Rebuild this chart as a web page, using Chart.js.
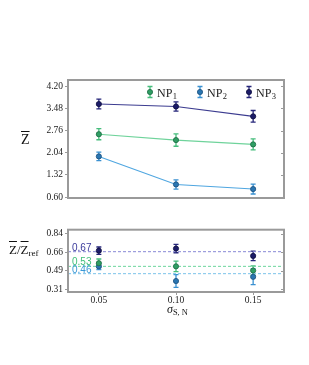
<!DOCTYPE html>
<html>
<head>
<meta charset="utf-8">
<script src="https://cdn.jsdelivr.net/npm/chart.js@4/dist/chart.umd.min.js"></script>
<style>
  body { margin: 0; background: #fff; }
  #wrap { position: relative; width: 309px; height: 365px; background: #fff; }
  canvas { position: absolute; left: 0; }
  .lbl { position: absolute; font-family: "Liberation Serif", serif; color: #111; white-space: nowrap; }
  .ov { text-decoration: overline; }
  .lbl sub { font-size: 70%; vertical-align: -2px; }
</style>
</head>
<body>
<div id="wrap">
  <canvas id="topChart" width="309" height="222" style="top:0"></canvas>
  <canvas id="botChart" width="309" height="90" style="top:222px"></canvas>
  <div class="lbl" style="left:21px; top:132px; font-size:14px;"><span class="ov">Z</span></div>
  <div class="lbl" style="left:9px; top:242px; font-size:13px;"><span class="ov">Z</span>/<span class="ov">Z</span><sub>ref</sub></div>
  <div class="lbl" style="left:167px; top:302px; font-size:12px;"><i>σ</i><sub>S, N</sub></div>
</div>
<script>
// values
var sigma = [0.05, 0.10, 0.15];
var seriesNames = ['NP', 'NP', 'NP'];
var seriesSubs = ['1', '2', '3'];

var zNP1 = [2.64, 2.45, 2.31];
var zNP2 = [1.92, 1.01, 0.86];
var zNP3 = [3.62, 3.54, 3.22];
var zErrNP1 = [0.18, 0.20, 0.18];
var zErrNP2 = [0.14, 0.15, 0.16];
var zErrNP3 = [0.16, 0.15, 0.19];

var rNP1 = [0.56, 0.53, 0.49];
var rNP2 = [0.53, 0.39, 0.43];
var rNP3 = [0.68, 0.70, 0.63];
var rErrNP1 = [0.04, 0.05, 0.045];
var rErrNP2 = [0.03, 0.06, 0.075];
var rErrNP3 = [0.035, 0.04, 0.045];

var refValues = [0.53, 0.46, 0.67]; // NP1, NP2, NP3
var topTicks = [0.60, 1.32, 2.04, 2.76, 3.48, 4.20];
var botTicks = [0.31, 0.4867, 0.6633, 0.84];

var fill = ['#2f9e64', '#2a76b2', '#1c1c68'];
var edge = ['#1d6b42', '#1a4f7c', '#0d0d3d'];
var errCol = ['#46bd7c', '#3a91d1', '#26267a'];
var lineCol = ['#6fd39b', '#4fa6e0', '#3c3c90'];
var refCol = ['#6cd69d', '#7cc3ea', '#8888d6'];

var serif = '"Liberation Serif", serif';

function pts(vals) {
  return sigma.map(function(x, i) { return {x: x, y: vals[i]}; });
}

function drawErr(ctx, px, y1, y2, col) {
  ctx.strokeStyle = col;
  ctx.lineWidth = 1.3;
  ctx.beginPath();
  ctx.moveTo(px, y1); ctx.lineTo(px, y2);
  ctx.moveTo(px - 2.5, y1); ctx.lineTo(px + 2.5, y1);
  ctx.moveTo(px - 2.5, y2); ctx.lineTo(px + 2.5, y2);
  ctx.stroke();
}

// error bars drawn under the markers
var errorBars = {
  id: 'errorBars',
  beforeDatasetsDraw: function(chart, args, opts) {
    var ctx = chart.ctx, xs = chart.scales.x, ys = chart.scales.y;
    ctx.save();
    opts.vals.forEach(function(vals, k) {
      var errs = opts.errs[k];
      vals.forEach(function(v, j) {
        drawErr(ctx, xs.getPixelForValue(sigma[j]),
          ys.getPixelForValue(v - errs[j]), ys.getPixelForValue(v + errs[j]), errCol[k]);
      });
    });
    ctx.restore();
  }
};

// grey axes frame with inner ticks on the right
var frame = {
  id: 'frame',
  afterDraw: function(chart) {
    var ctx = chart.ctx, a = chart.chartArea, ys = chart.scales.y;
    ctx.save();
    ctx.strokeStyle = '#9a9a9a';
    ctx.lineWidth = 2;
    ctx.strokeRect(a.left, a.top, a.right - a.left, a.bottom - a.top);
    ctx.lineWidth = 1;
    ys.ticks.forEach(function(t) {
      var py = Math.round(ys.getPixelForValue(t.value)) + 0.5;
      ctx.beginPath(); ctx.moveTo(a.right, py); ctx.lineTo(a.right - 3, py); ctx.stroke();
    });
    ctx.restore();
  }
};

// legend inside the top axes: marker with error bar, NP with subscript
var npLegend = {
  id: 'npLegend',
  afterDraw: function(chart) {
    var ctx = chart.ctx, a = chart.chartArea;
    var y = a.top + 12;
    var x0 = [150, 200, 249];
    ctx.save();
    seriesNames.forEach(function(n, k) {
      var x = x0[k];
      drawErr(ctx, x, y - 5.5, y + 5.5, errCol[k]);
      ctx.fillStyle = fill[k]; ctx.strokeStyle = edge[k]; ctx.lineWidth = 0.8;
      ctx.beginPath(); ctx.arc(x, y, 2.6, 0, Math.PI * 2); ctx.fill(); ctx.stroke();
      ctx.fillStyle = '#222';
      ctx.textBaseline = 'alphabetic';
      ctx.font = '12px ' + serif;
      ctx.fillText(n, x + 7, y + 4.5);
      var w = ctx.measureText(n).width;
      ctx.font = '8.5px ' + serif;
      ctx.fillText(seriesSubs[k], x + 7 + w + 0.5, y + 7);
    });
    ctx.restore();
  }
};

// value labels for the dashed reference lines
var refLabels = {
  id: 'refLabels',
  afterDatasetsDraw: function(chart) {
    var ctx = chart.ctx, ys = chart.scales.y, a = chart.chartArea;
    var txt = ['#3fbf78', '#3a98d6', '#3b3b9c'];
    ctx.save();
    ctx.font = '10px "Liberation Sans", sans-serif';
    ctx.textBaseline = 'alphabetic';
    refValues.forEach(function(v, k) {
      var py = ys.getPixelForValue(v);
      ctx.fillStyle = txt[k];
      ctx.fillText(v.toFixed(2), a.left + 4, py - 1);
    });
    ctx.restore();
  }
};

function seriesSets(vals, withLine) {
  return vals.map(function(v, k) {
    return {
      label: seriesNames[k] + seriesSubs[k],
      data: pts(v),
      showLine: withLine,
      borderColor: lineCol[k],
      borderWidth: 1.1,
      pointRadius: 2.6,
      pointBackgroundColor: fill[k],
      pointBorderColor: edge[k],
      pointBorderWidth: 0.8,
      order: 1
    };
  });
}

var xScale = function(show) {
  return {
    type: 'linear', min: 0.03, max: 0.17, display: show,
    afterBuildTicks: function(s) { s.ticks = sigma.map(function(v) { return {value: v}; }); },
    afterFit: function(s) { s.height = 20; },
    grid: {drawOnChartArea: false, tickLength: 3, color: '#9a9a9a'},
    border: {display: false},
    ticks: {font: {family: serif, size: 9.5}, color: '#222', padding: 0,
      callback: function(v) { return v.toFixed(2); }}
  };
};

var yScale = function(min, max, tickVals) {
  return {
    type: 'linear', min: min, max: max,
    afterBuildTicks: function(s) { s.ticks = tickVals.map(function(v) { return {value: v}; }); },
    afterFit: function(s) { s.width = 68; },
    grid: {drawOnChartArea: false, tickLength: 3, color: '#9a9a9a'},
    border: {display: false},
    ticks: {font: {family: serif, size: 9.5}, color: '#222', padding: 2,
      callback: function(v) { return v.toFixed(2); }}
  };
};

new Chart(document.getElementById('topChart').getContext('2d'), {
  type: 'scatter',
  data: {datasets: seriesSets([zNP1, zNP2, zNP3], true)},
  options: {
    responsive: false,
    animation: false,
    devicePixelRatio: 1,
    layout: {padding: {top: 80, right: 25, bottom: 4, left: 0}},
    scales: {x: xScale(false), y: yScale(0.57, 4.40, topTicks)},
    plugins: {
      tooltip: {enabled: false},
      legend: {display: false},
      errorBars: {vals: [zNP1, zNP2, zNP3], errs: [zErrNP1, zErrNP2, zErrNP3]}
    }
  },
  plugins: [errorBars, frame, npLegend]
});

var refSets = refValues.map(function(v, k) {
  return {
    data: [{x: 0.03, y: v}, {x: 0.17, y: v}],
    showLine: true,
    borderColor: refCol[k],
    borderWidth: 1,
    borderDash: [3, 2],
    pointRadius: 0,
    order: 10
  };
});

new Chart(document.getElementById('botChart').getContext('2d'), {
  type: 'scatter',
  data: {datasets: refSets.concat(seriesSets([rNP1, rNP2, rNP3], false))},
  options: {
    responsive: false,
    animation: false,
    devicePixelRatio: 1,
    layout: {padding: {top: 5, right: 25, bottom: 0, left: 0}},
    scales: {x: xScale(true), y: yScale(0.285, 0.88, botTicks)},
    plugins: {
      tooltip: {enabled: false},
      legend: {display: false},
      errorBars: {vals: [rNP1, rNP2, rNP3], errs: [rErrNP1, rErrNP2, rErrNP3]}
    }
  },
  plugins: [errorBars, frame, refLabels]
});
</script>
</body>
</html>
